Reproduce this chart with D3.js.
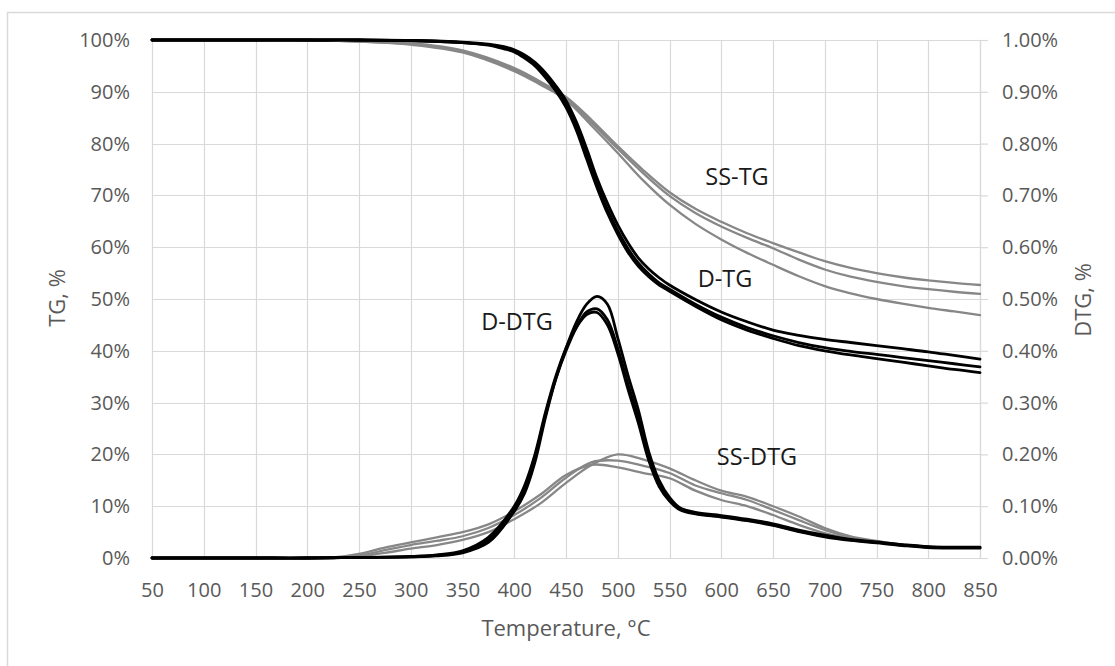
<!DOCTYPE html>
<html>
<head>
<meta charset="utf-8">
<script src="https://cdn.jsdelivr.net/npm/d3@7"></script>
<style>
  html, body { margin: 0; padding: 0; background: #fff; }
  svg { display: block; font-family: "Open Sans", "Noto Sans", sans-serif; }
</style>
</head>
<body>
<svg id="chart" width="1115" height="666"></svg>
<script>
// ---------------- data ----------------
const xTicks = [50,100,150,200,250,300,350,400,450,500,550,600,650,700,750,800,850];
const tgTicks = [0,10,20,30,40,50,60,70,80,90,100];
const dtgTicks = [0,0.1,0.2,0.3,0.4,0.5,0.6,0.7,0.8,0.9,1.0];

// D (black) TG curves, %
const dTgTemp = [50,100,150,200,250,300,350,375,390,400,410,420,430,440,450,460,470,480,490,500,510,520,530,540,550,575,600,625,650,675,700,725,750,775,800,825,850];
const dTg1 = [100,100,100,100,100,99.9,99.6,99.2,98.7,98.1,97.1,95.7,93.7,91.2,88.3,84.2,79.0,73.3,68.5,64.3,60.8,57.9,55.8,54.1,52.7,49.9,47.5,45.6,44.0,43.0,42.2,41.6,41.0,40.4,39.8,39.1,38.4];
const dTg2 = [100,100,100,100,100,99.9,99.5,99.1,98.5,97.9,96.8,95.3,93.2,90.6,87.5,83.2,77.8,72.2,67.3,63.2,59.7,56.9,54.8,53.1,51.9,49.0,46.5,44.5,42.9,41.6,40.6,39.9,39.3,38.7,38.1,37.5,36.9];
const dTg3 = [100,100,100,100,100,99.9,99.5,99.0,98.3,97.7,96.5,95.0,92.8,90.2,87.0,82.6,77.0,71.5,66.6,62.5,59.0,56.3,54.3,52.7,51.5,48.6,46.0,44.0,42.4,41.0,40.0,39.2,38.5,37.8,37.1,36.4,35.8];

// SS (grey) TG curves, %
const ssTgTemp = [50,100,150,200,250,300,350,400,425,450,475,500,525,550,575,600,625,650,675,700,725,750,775,800,825,850];
const ssTg1 = [100,100,100,100,99.8,99.4,98.0,94.6,92.0,89.0,84.5,79.5,74.8,70.6,67.4,64.9,62.7,60.8,59.0,57.3,56.0,55.0,54.2,53.6,53.1,52.7];
const ssTg2 = [100,100,100,100,99.7,99.2,97.8,94.3,91.7,88.7,84.0,79.0,74.2,69.9,66.6,64.0,61.8,59.8,57.6,55.7,54.3,53.3,52.5,51.9,51.4,51.0];
const ssTg3 = [100,100,100,100,99.7,99.1,97.6,94.0,91.4,88.4,83.4,78.2,72.8,68.2,64.5,61.5,58.9,56.6,54.4,52.5,51.1,50.0,49.1,48.3,47.6,46.9];

// D (black) DTG curves, %
const dDtgTemp = [50,100,150,200,250,300,325,350,375,400,410,420,430,440,450,460,470,480,490,500,510,520,530,540,550,560,575,600,625,650,675,700,725,750,775,800,825,850];
const dDtg1 = [0,0,0,0,0.001,0.002,0.004,0.010,0.030,0.090,0.125,0.185,0.270,0.345,0.405,0.455,0.490,0.505,0.490,0.425,0.352,0.285,0.205,0.150,0.117,0.097,0.088,0.082,0.075,0.066,0.054,0.044,0.036,0.031,0.026,0.022,0.021,0.021];
const dDtg2 = [0,0,0,0,0.001,0.002,0.005,0.012,0.035,0.095,0.135,0.195,0.275,0.345,0.400,0.445,0.475,0.481,0.460,0.405,0.335,0.270,0.195,0.143,0.113,0.095,0.086,0.080,0.073,0.064,0.052,0.042,0.035,0.030,0.025,0.021,0.020,0.020];
const dDtg3 = [0,0,0,0,0.001,0.003,0.006,0.014,0.040,0.100,0.140,0.200,0.280,0.350,0.405,0.445,0.470,0.474,0.450,0.395,0.325,0.260,0.188,0.138,0.110,0.093,0.085,0.079,0.072,0.063,0.051,0.041,0.034,0.029,0.024,0.020,0.019,0.019];

// SS (grey) DTG curves, %
const ssDtgTemp = [50,100,150,200,225,250,275,300,325,350,375,400,425,450,475,500,525,550,575,600,625,650,675,700,725,750,775,800,825,850];
const ssDtg1 = [0,0,0,0,0,0.003,0.010,0.018,0.025,0.035,0.050,0.075,0.105,0.145,0.180,0.200,0.190,0.173,0.150,0.130,0.118,0.100,0.080,0.058,0.042,0.033,0.026,0.022,0.020,0.020];
const ssDtg2 = [0,0,0,0,0,0.005,0.015,0.025,0.033,0.042,0.058,0.083,0.115,0.155,0.185,0.188,0.178,0.164,0.140,0.125,0.112,0.093,0.073,0.054,0.040,0.032,0.026,0.022,0.020,0.020];
const ssDtg3 = [0,0,0,0,0.001,0.008,0.020,0.030,0.040,0.050,0.065,0.090,0.122,0.160,0.180,0.175,0.164,0.154,0.130,0.112,0.100,0.083,0.064,0.048,0.038,0.031,0.025,0.021,0.020,0.020];

// ---------------- layout ----------------
const L = 152, R = 980, T = 40, B = 558;
const gridColor = "#d9d9d9";
const textColor = "#595959";

const svg = d3.select("#chart");

svg.append("rect").attr("x", 7.5).attr("y", 12.5).attr("width", 1200).attr("height", 800)
  .attr("fill", "#fff").attr("stroke", gridColor).attr("stroke-width", 1.5);

const x = d3.scaleLinear().domain([50, 850]).range([L, R]);
const yL = d3.scaleLinear().domain([0, 100]).range([B, T]);
const yR = d3.scaleLinear().domain([0, 1]).range([B, T]);

// gridlines
const grid = svg.append("g");
grid.selectAll("line.v").data(xTicks).join("line")
  .attr("x1", d => Math.round(x(d)) + 0.5).attr("x2", d => Math.round(x(d)) + 0.5)
  .attr("y1", T).attr("y2", B).attr("stroke", gridColor).attr("stroke-width", 1.2);
grid.selectAll("line.h").data(tgTicks).join("line")
  .attr("x1", L).attr("x2", R)
  .attr("y1", d => Math.round(yL(d)) + 0.5).attr("y2", d => Math.round(yL(d)) + 0.5)
  .attr("stroke", gridColor).attr("stroke-width", 1.2);

// axes
const axB = svg.append("g").attr("transform", `translate(0,${B})`)
  .call(d3.axisBottom(x).tickValues(xTicks).tickSize(0).tickPadding(25).tickFormat(d3.format("d")));
axB.select(".domain").remove();

const axL = svg.append("g").attr("transform", `translate(${L},0)`)
  .call(d3.axisLeft(yL).tickValues(tgTicks).tickSize(0).tickPadding(22).tickFormat(d => d + "%"));
axL.select(".domain").remove();

const axR = svg.append("g").attr("transform", `translate(${R},0)`)
  .call(d3.axisRight(yR).tickValues(dtgTicks).tickSizeInner(8).tickSizeOuter(0).tickPadding(14)
    .tickFormat(d => d.toFixed(2) + "%"));
axR.select(".domain").attr("stroke", gridColor).attr("stroke-width", 1.2);
axR.selectAll(".tick line").attr("stroke", gridColor).attr("stroke-width", 1.2);

[axB, axL, axR].forEach(a => {
  a.selectAll("text").attr("fill", textColor).style("font-size", "20px")
    .style("font-family", '"Open Sans", sans-serif');
});

// axis titles
svg.append("text").attr("x", (L + R) / 2).attr("y", 636).attr("text-anchor", "middle")
  .attr("fill", textColor).style("font-size", "22px").text("Temperature, °C");
svg.append("text").attr("transform", "translate(65,298) rotate(-90)").attr("text-anchor", "middle")
  .attr("fill", textColor).style("font-size", "22px").text("TG, %");
svg.append("text").attr("transform", "translate(1091,300) rotate(-90)").attr("text-anchor", "middle")
  .attr("fill", textColor).style("font-size", "22px").text("DTG, %");

// lines
const grey = "#878787";
function drawLine(temps, vals, yScale, color, width) {
  const line = d3.line().x((d, i) => x(temps[i])).y(d => yScale(d)).curve(d3.curveCatmullRom.alpha(0.5));
  return svg.append("path").datum(vals).attr("d", line)
    .attr("fill", "none").attr("stroke", color).attr("stroke-width", width)
    .attr("stroke-linejoin", "round").attr("stroke-linecap", "round");
}

// grey SS curves first
[ssTg1, ssTg2, ssTg3].forEach(v => drawLine(ssTgTemp, v, yL, grey, 2.3));
[ssDtg1, ssDtg2, ssDtg3].forEach(v => drawLine(ssDtgTemp, v, yR, grey, 2.3));
// black D curves
[dTg1, dTg2, dTg3].forEach(v => drawLine(dTgTemp, v, yL, "#000", 2.8));
[dDtg1, dDtg2, dDtg3].forEach(v => drawLine(dDtgTemp, v, yR, "#000", 2.8));

// curve labels
const labels = [
  { t: "SS-TG", x: 737, y: 185 },
  { t: "D-TG", x: 725, y: 287 },
  { t: "D-DTG", x: 517, y: 330 },
  { t: "SS-DTG", x: 757, y: 465 }
];
svg.selectAll("text.lbl").data(labels).join("text").attr("class", "lbl")
  .attr("x", d => d.x).attr("y", d => d.y).attr("text-anchor", "middle")
  .attr("fill", "#1a1a1a").style("font-size", "23.5px").text(d => d.t);
</script>
</body>
</html>
